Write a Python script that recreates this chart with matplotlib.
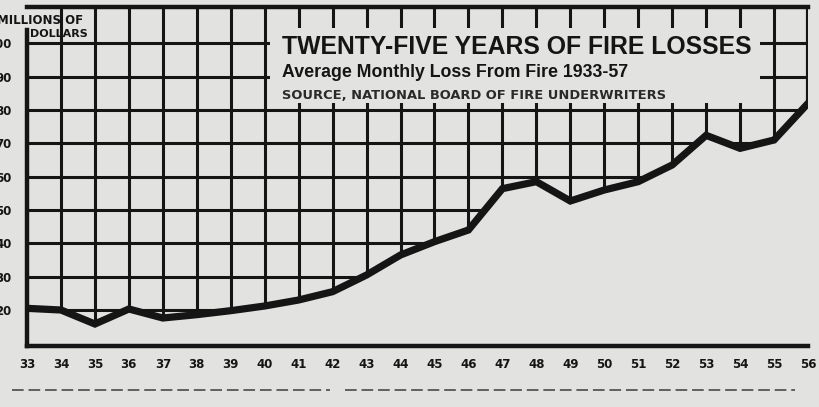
import matplotlib
matplotlib.use("Agg")
import matplotlib.pyplot as plt
from matplotlib.patches import Rectangle
from matplotlib.lines import Line2D

# average monthly fire loss, millions of dollars
years = [33, 34, 35, 36, 37, 38, 39, 40, 41, 42, 43, 44, 45, 46,
         47, 48, 49, 50, 51, 52, 53, 54, 55, 56]
loss = [20.5, 20, 15.8, 20.3, 17.6, 18.6, 19.8, 21.2, 23, 25.5, 30.5, 36.5, 40.5, 44,
        56.4, 58.5, 52.7, 56, 58.5, 63.5, 72.4, 68.5, 71, 82]
ytick_vals = [20, 30, 40, 50, 60, 70, 80, 90, 100]
ytick_labels = ["20", "30", "40", "50", "60", "70", "80", "90", "100"]
xtick_labels = [str(y) for y in years]

title = "TWENTY-FIVE YEARS OF FIRE LOSSES"
subtitle = "Average Monthly Loss From Fire 1933-57"
source = "SOURCE, NATIONAL BOARD OF FIRE UNDERWRITERS"

paper = "#e2e2e0"
ink = "#151515"

plt.rcParams['font.family'] = ['Liberation Sans', 'DejaVu Sans']

fig = plt.figure(figsize=(8.19, 4.07), dpi=100, facecolor=paper)
W, H = 819, 407
# axes box in pixels: left 27, right 808, top 7, bottom 346
ax = fig.add_axes([27 / W, (H - 346) / H, (808 - 27) / W, (346 - 7) / H])
ax.set_facecolor(paper)

ymin, ymax = 9.2, 110.9
ax.set_xlim(33, 56)
ax.set_ylim(ymin, ymax)

# grid drawn by hand so the area under the curve can cover it
hl = ax.hlines(ytick_vals, 33, 56, color=ink, lw=2.2)
vl = ax.vlines(years[1:-1], ymin, ymax, color=ink, lw=2.2)
rl = ax.vlines(56, 48, ymax, color=ink, lw=3)
for art in (hl, vl, rl):
    art.set_zorder(0.5)

# paper-coloured area under the curve hides the grid there
under = ax.fill_between(years, loss, ymin, facecolor=paper, edgecolor='none')
under.set_zorder(2)
ax.plot(years, loss, color=ink, lw=5.2, solid_joinstyle='miter', zorder=3)

# title panel, blanks the grid behind the text
ax.add_patch(Rectangle((40.15, 82.2), 54.6 - 40.15, 104.6 - 82.2,
                       facecolor=paper, edgecolor='none', zorder=2))
ax.text(40.5, 98.9, title, fontsize=17.8, fontweight='bold', color=ink,
        va='center', ha='left', zorder=4)
ax.text(40.5, 91.3, subtitle, fontsize=12.8, fontweight='bold', color=ink,
        va='center', ha='left', zorder=4)
ax.text(40.5, 84.5, source, fontsize=9.4, fontweight='bold', color='#2a2a2a',
        family='DejaVu Sans', va='center', ha='left', zorder=4)

for side in ['left', 'bottom', 'top']:
    ax.spines[side].set_linewidth(3.2)
    ax.spines[side].set_color(ink)
ax.spines['right'].set_visible(False)
ax.spines['left'].set_bounds(ymin, 104)

ax.set_yticks(ytick_vals)
ax.set_yticklabels(ytick_labels, fontsize=8.5, fontweight='bold', color=ink,
                   family='DejaVu Sans')
ax.set_xticks(years)
ax.set_xticklabels(xtick_labels, fontsize=8.5, fontweight='bold', color=ink,
                   family='DejaVu Sans')
ax.tick_params(axis='y', length=0, pad=11)
ax.tick_params(axis='x', length=0, pad=9)

fig.text(-3 / W, 1 - 20 / H, "MILLIONS OF", fontsize=8.5, fontweight='bold',
         family='DejaVu Sans', color=ink, va='center', ha='left')
fig.text(30 / W, 1 - 34 / H, "DOLLARS", fontsize=8, fontweight='bold',
         family='DejaVu Sans', color=ink, va='center', ha='left')

# remnant of the text line under the chart
for x0, x1 in [(12, 330), (345, 795)]:
    fig.add_artist(Line2D([x0 / W, x1 / W], [1 - 390 / H] * 2, color='#606060',
                          lw=1.4, ls=(0, (6, 2.5))))

fig.savefig("out.png", dpi=100, facecolor=paper)
